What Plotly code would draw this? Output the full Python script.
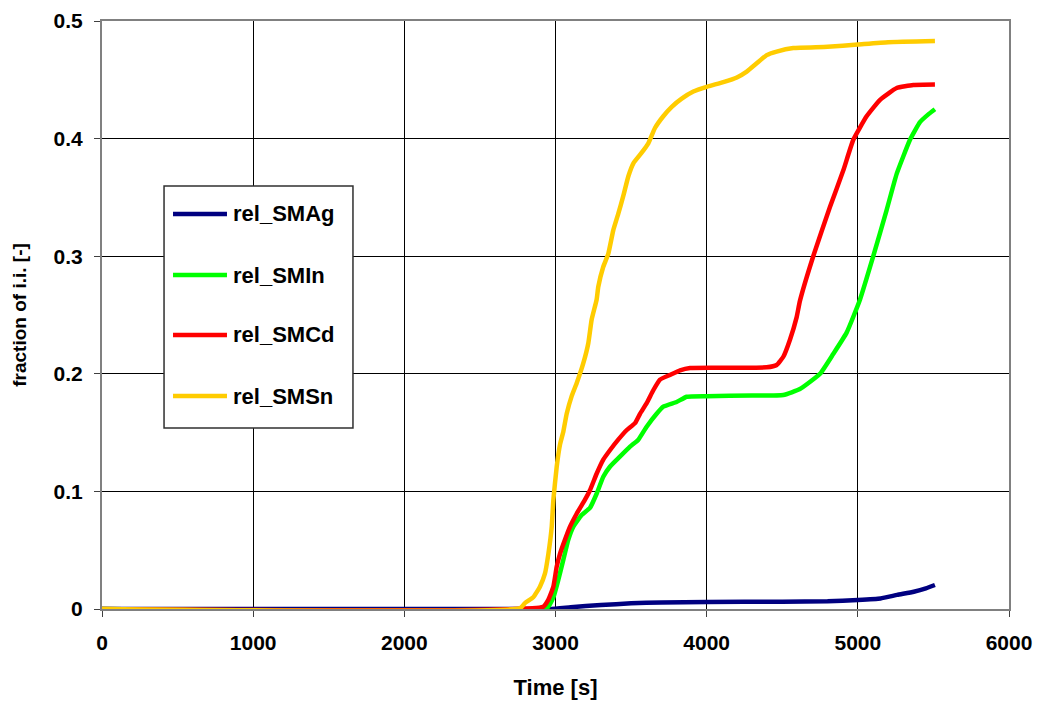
import plotly.graph_objects as go

# Release fractions of the inventory (i.i.) versus time
t_ag = [0, 2960, 3100, 3300, 3500, 3700, 4000, 4500, 4800, 5000, 5150, 5260, 5370, 5450, 5510]
v_ag = [0, 0, 0.0015, 0.0034, 0.0048, 0.0056, 0.0060, 0.0062, 0.0066, 0.0077, 0.0090, 0.0120, 0.0147, 0.0175, 0.0204]

t_in = [0, 2941, 2986, 3019, 3052, 3085, 3118, 3173, 3228, 3272, 3316, 3360, 3426, 3493, 3548,
        3603, 3669, 3713, 3801, 3868, 4000, 4300, 4507, 4617, 4750, 4838, 4926, 5014, 5102,
        5190, 5257, 5345, 5411, 5470, 5510]
v_in = [0, 0.0006, 0.010, 0.025, 0.042, 0.059, 0.070, 0.080, 0.086, 0.098, 0.1125, 0.121, 0.1295,
        0.138, 0.144, 0.155, 0.166, 0.172, 0.176, 0.1805, 0.181, 0.1815, 0.182, 0.187, 0.200,
        0.217, 0.235, 0.263, 0.300, 0.339, 0.370, 0.399, 0.414, 0.421, 0.425]

t_cd = [0, 2919, 2953, 2986, 3008, 3030, 3063, 3096, 3140, 3195, 3228, 3272, 3316, 3360, 3415,
        3470, 3526, 3559, 3603, 3647, 3691, 3757, 3824, 3890, 4100, 4397, 4463, 4507, 4551,
        4595, 4617, 4705, 4816, 4904, 4970, 5058, 5147, 5257, 5367, 5510]
v_cd = [0, 0.002, 0.008, 0.019, 0.036, 0.047, 0.059, 0.070, 0.081, 0.093, 0.101, 0.115, 0.127,
        0.135, 0.144, 0.152, 0.158, 0.166, 0.175, 0.186, 0.195, 0.199, 0.203, 0.205, 0.2052,
        0.2055, 0.2075, 0.2145, 0.229, 0.248, 0.262, 0.300, 0.342, 0.373, 0.399, 0.419, 0.433,
        0.443, 0.4456, 0.446]

t_sn = [0, 2765, 2798, 2853, 2897, 2930, 2953, 2975, 2986, 3008, 3030, 3052, 3074, 3107, 3140,
        3184, 3217, 3239, 3272, 3283, 3316, 3349, 3382, 3415, 3448, 3482, 3515, 3570, 3614,
        3658, 3713, 3769, 3835, 3912, 4000, 4110, 4200, 4265, 4331, 4397, 4463, 4573, 4800,
        5000, 5200, 5510]
v_sn = [0, 0.0006, 0.005, 0.010, 0.019, 0.030, 0.047, 0.070, 0.093, 0.121, 0.140, 0.151, 0.166,
        0.181, 0.192, 0.209, 0.226, 0.246, 0.263, 0.274, 0.291, 0.302, 0.322, 0.336, 0.351,
        0.368, 0.379, 0.388, 0.396, 0.409, 0.419, 0.427, 0.434, 0.440, 0.444, 0.448, 0.452,
        0.457, 0.464, 0.471, 0.474, 0.477, 0.478, 0.480, 0.482, 0.483]

series_names = ["rel_SMAg", "rel_SMIn", "rel_SMCd", "rel_SMSn"]
series_colors = ["#000080", "#00FF00", "#FF0000", "#FFCC00"]
series_t = [t_ag, t_in, t_cd, t_sn]
series_v = [v_ag, v_in, v_cd, v_sn]

x_ticks = [0, 1000, 2000, 3000, 4000, 5000, 6000]
y_ticks = [0, 0.1, 0.2, 0.3, 0.4, 0.5]
y_tick_text = ["0", "0.1", "0.2", "0.3", "0.4", "0.5"]

FONT = "Liberation Sans, Arial, sans-serif"

fig = go.Figure()
for name, color, tx, vy in zip(series_names, series_colors, series_t, series_v):
    fig.add_trace(go.Scatter(
        x=tx, y=vy, mode="lines", name=name,
        line=dict(color=color, width=4.5, shape="spline", smoothing=0.4),
        showlegend=False,
    ))

fig.update_layout(
    width=1038, height=701,
    margin=dict(l=102, r=29, t=21, b=92),
    paper_bgcolor="white", plot_bgcolor="white",
    font=dict(family=FONT, color="black", size=21, weight="bold"),
)

fig.update_xaxes(
    range=[0, 6000], tickvals=x_ticks, ticktext=[str(v) for v in x_ticks],
    automargin=False,
    showgrid=True, gridcolor="black", gridwidth=1, zeroline=False,
    showline=True, linecolor="#808080", linewidth=2, mirror=True,
    ticks="outside", ticklen=6, tickcolor="#404040", tickwidth=1,
    tickfont=dict(family=FONT, size=21, weight="bold"),
    ticklabelstandoff=8,
    title=dict(text="Time [s]", font=dict(family=FONT, size=22, weight="bold"), standoff=26),
)
fig.update_yaxes(
    range=[0, 0.5], tickvals=y_ticks, ticktext=y_tick_text,
    automargin=False,
    showgrid=True, gridcolor="black", gridwidth=1, zeroline=False,
    showline=True, linecolor="#808080", linewidth=2, mirror=True,
    ticks="outside", ticklen=6, tickcolor="#404040", tickwidth=1,
    tickfont=dict(family=FONT, size=21, weight="bold"),
    ticklabelstandoff=7,
    title=dict(text="fraction of i.i. [-]", font=dict(family=FONT, size=19, weight="bold"), standoff=22),
)

# Boxed legend inside the plot area
fig.add_shape(type="rect", xref="paper", yref="paper",
              x0=0.0684, x1=0.2767, y0=0.3078, y1=0.7194,
              line=dict(color="#303030", width=1.5), fillcolor="white", layer="above")
legend_y = [0.6718, 0.568, 0.466, 0.3622]
for name, color, ly in zip(series_names, series_colors, legend_y):
    fig.add_shape(type="line", xref="paper", yref="paper",
                  x0=0.0783, x1=0.1378, y0=ly, y1=ly,
                  line=dict(color=color, width=4.5), layer="above")
    fig.add_annotation(xref="paper", yref="paper", x=0.1422, y=ly,
                       xanchor="left", yanchor="middle", showarrow=False,
                       text=name, font=dict(family=FONT, size=22, weight="bold", color="black"))

fig.write_html("out.html")
